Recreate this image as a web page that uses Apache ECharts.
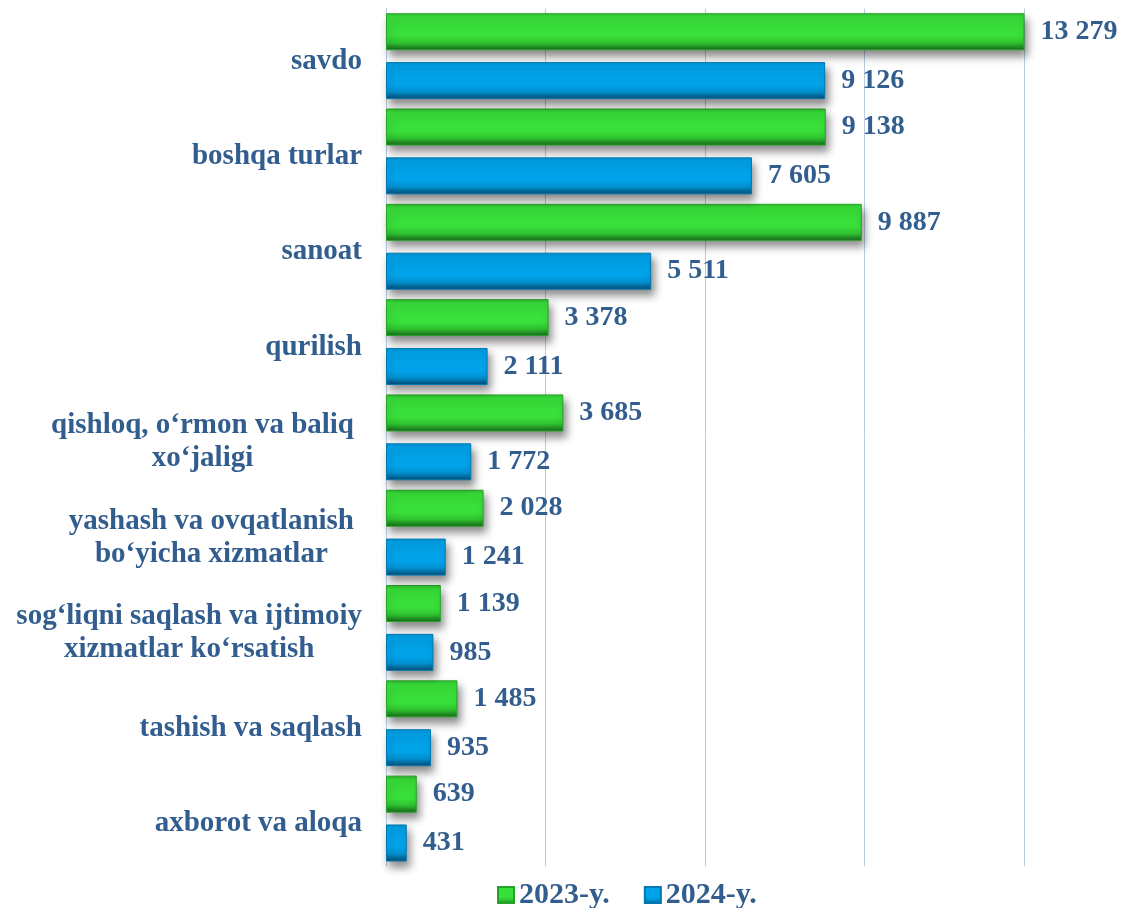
<!DOCTYPE html>
<html>
<head>
<meta charset="utf-8">
<script src="https://cdn.jsdelivr.net/npm/echarts@6/dist/echarts.min.js"></script>
<style>
  html, body { margin: 0; padding: 0; background: #fff; }
  #chart { width: 1123px; height: 908px; }
</style>
</head>
<body>
<div id="chart"></div>
<script>
// categories top to bottom
const categories = [
  "savdo",
  "boshqa turlar",
  "sanoat",
  "qurilish",
  "qishloq, o‘rmon va baliq\nxo‘jaligi",
  "yashash va ovqatlanish\nbo‘yicha xizmatlar",
  "sog‘liqni saqlash va ijtimoiy\nxizmatlar ko‘rsatish",
  "tashish va saqlash",
  "axborot va aloqa"
];
const seriesNames = ["2023-y.", "2024-y."];
const values2023 = [13279, 9138, 9887, 3378, 3685, 2028, 1139, 1485, 639];
const values2024 = [9126, 7605, 5511, 2111, 1772, 1241, 985, 935, 431];

const textColor = "#325d8f";
const fontFam = "'Liberation Serif', 'Times New Roman', serif";

function fmt(v) {
  return String(v).replace(/\B(?=(\d{3})+(?!\d))/g, " ");
}

// vertical gradient to fake the bevelled 3d look
function bevel(light, mid, darkest) {
  return new echarts.graphic.LinearGradient(0, 0, 0, 1, [
    { offset: 0, color: mid },
    { offset: 0.12, color: light },
    { offset: 0.62, color: light },
    { offset: 0.8, color: mid },
    { offset: 1, color: darkest }
  ]);
}

const greenFill = bevel("#39df3a", "#2fc230", "#17651a");
const blueFill = bevel("#00a3e9", "#0290cf", "#014a70");

function barSeries(name, data, fill, border) {
  return {
    name: name,
    type: "bar",
    data: data,
    barWidth: 37,
    barGap: "32%",
    itemStyle: {
      color: fill,
      borderColor: border,
      borderWidth: 1,
      shadowColor: "rgba(0,0,0,0.45)",
      shadowBlur: 8,
      shadowOffsetX: 3,
      shadowOffsetY: 6
    },
    label: {
      show: true,
      position: "right",
      distance: 16,
      color: textColor,
      fontFamily: fontFam,
      fontWeight: "bold",
      fontSize: 28,
      formatter: p => fmt(p.value)
    }
  };
}

const labelStyle = {
  align: "center",
  color: textColor,
  fontFamily: fontFam,
  fontWeight: "bold",
  fontSize: 29,
  lineHeight: 33
};

const chart = echarts.init(document.getElementById("chart"));
chart.setOption({
  animation: false,
  backgroundColor: "#fff",
  grid: { left: 386, right: 99, top: 8.5, bottom: 41.8 },
  legend: {
    top: 875,
    left: 492,
    itemWidth: 16,
    itemHeight: 16,
    itemGap: 34,
    icon: "rect",
    textStyle: {
      color: textColor,
      fontFamily: fontFam,
      fontWeight: "bold",
      fontSize: 30
    },
    data: seriesNames
  },
  xAxis: {
    type: "value",
    min: 0,
    max: 13258,
    interval: 3314.5,
    axisLabel: { show: false },
    axisTick: { show: false },
    axisLine: { show: false },
    splitLine: { lineStyle: { color: "#b9cbe2", width: 1 } }
  },
  yAxis: {
    type: "category",
    inverse: true,
    data: categories,
    axisTick: { show: false },
    axisLine: { show: true, lineStyle: { color: "#b9cbe2" } },
    axisLabel: {
      margin: 24,
      padding: [10, 0, 0, 0],
      formatter: (v, i) => {
        // two labels sit a little further from the axis in the original
        const key = (i === 4 || i === 5) ? "p" : "a";
        return v.split("\n").map(l => "{" + key + "|" + l + "}").join("\n");
      },
      rich: {
        a: labelStyle,
        p: Object.assign({}, labelStyle, { padding: [0, 8, 0, 0] })
      }
    }
  },
  series: [
    barSeries(seriesNames[0], values2023, greenFill, "#26a327"),
    barSeries(seriesNames[1], values2024, blueFill, "#0278b0")
  ]
});
</script>
</body>
</html>
